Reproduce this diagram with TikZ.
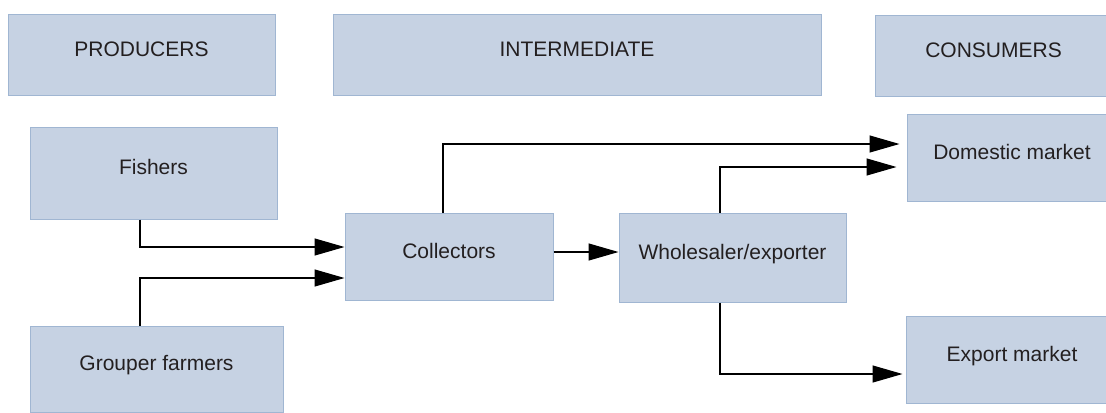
\documentclass[tikz,border=0pt]{standalone}
\usepackage{fontspec}
\setmainfont{Liberation Sans}
\usetikzlibrary{arrows.meta,calc}
\definecolor{boxfill}{HTML}{C6D2E3}
\definecolor{boxline}{HTML}{A0B6D2}
\definecolor{txtgray}{HTML}{231F20}
\tikzset{
  box/.style 2 args={draw=boxline,fill=boxfill,line width=0.5pt,minimum width=#1*0.5pt,minimum height=#2*0.5pt,
    inner sep=0pt,text=txtgray,font=\fontsize{10.5}{12}\selectfont,text height=7.5pt,text depth=6pt},
  flow/.style={draw=black,line width=0.6pt,-{Triangle[length=15pt,width=8.5pt]}}
}
\begin{document}
\begin{tikzpicture}[x=0.5pt,y=-0.5pt]
\useasboundingbox(0,0) rectangle (1106,412);
\node[box={267}{81}](producers) at (141.5,54.5){PRODUCERS};
\node[box={488}{81}](intermediate) at (577,54.5){INTERMEDIATE};
\node[box={237}{81}](consumers) at (993.5,55.5){CONSUMERS};
\node[box={247}{92}](fishers) at (153.5,173){Fishers};
\node[box={253}{86}](grouper) at (156.5,369){Grouper farmers};
\node[box={208}{87}](collectors) at (449,256.5){Collectors};
\node[box={227}{89}](wholesaler) at (732.5,257.5){Wholesaler/exporter};
\node[box={210}{87}](domestic) at (1012,157.5){Domestic market};
\node[box={212}{87}](export) at (1012,359.5){Export market};
%% producers to collectors
\draw[flow]($(fishers.south)+(-13.5,0)$)|-($(collectors.west)+(0,-9.5)$);
\draw[flow]($(grouper.north)+(-16.5,0)$)|-($(collectors.west)+(0,21.5)$);
\coordinate(colout) at ($(collectors.east)+(0,-4.5)$);
\draw[flow](colout)--(colout-|wholesaler.west);
%% to the markets
\draw[flow,shorten >=3.5pt]($(collectors.north)+(-6,0)$)|-($(domestic.west)+(0,-13.5)$);
\draw[flow,shorten >=5pt]($(wholesaler.north)+(-12.5,0)$)|-($(domestic.west)+(0,9.5)$);
\draw[flow,shorten >=1.5pt]($(wholesaler.south)+(-12.5,0)$)|-($(export.west)+(0,14.5)$);
\end{tikzpicture}
\end{document}
